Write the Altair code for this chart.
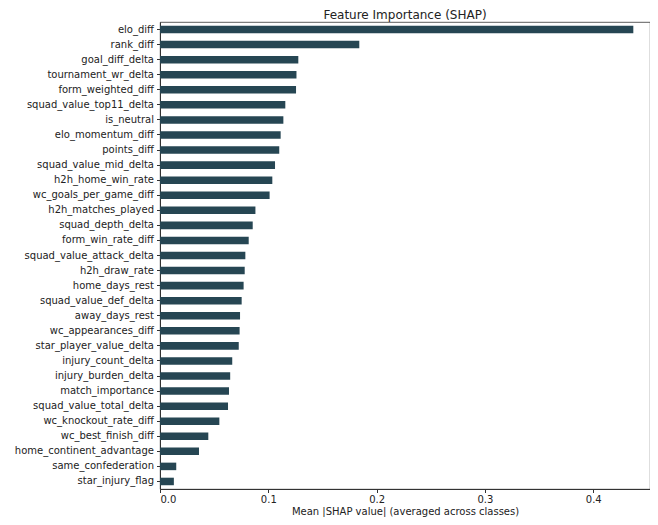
import altair as alt
import pandas as pd

features = [
    "elo_diff", "rank_diff", "goal_diff_delta", "tournament_wr_delta",
    "form_weighted_diff", "squad_value_top11_delta", "is_neutral",
    "elo_momentum_diff", "points_diff", "squad_value_mid_delta",
    "h2h_home_win_rate", "wc_goals_per_game_diff", "h2h_matches_played",
    "squad_depth_delta", "form_win_rate_diff", "squad_value_attack_delta",
    "h2h_draw_rate", "home_days_rest", "squad_value_def_delta",
    "away_days_rest", "wc_appearances_diff", "star_player_value_delta",
    "injury_count_delta", "injury_burden_delta", "match_importance",
    "squad_value_total_delta", "wc_knockout_rate_diff", "wc_best_finish_diff",
    "home_continent_advantage", "same_confederation", "star_injury_flag",
]
values = [
    0.437, 0.184, 0.1277, 0.126, 0.1256, 0.1157, 0.1139,
    0.1114, 0.1101, 0.1062, 0.1037, 0.1012, 0.0881,
    0.0856, 0.0819, 0.0788, 0.0782, 0.0772, 0.0754,
    0.0739, 0.0735, 0.0727, 0.0667, 0.0648, 0.0637,
    0.0628, 0.0548, 0.0446, 0.0360, 0.0150, 0.0128,
]
x_ticks = [0.0, 0.1, 0.2, 0.3, 0.4]

df = pd.DataFrame({"feature": features, "value": values})

FONT = "DejaVu Sans"

chart = alt.Chart(df).mark_bar(color="#264653").encode(
    x=alt.X(
        "value:Q",
        scale=alt.Scale(domain=[0, 0.4524], nice=False, zero=True),
        axis=alt.Axis(
            values=x_ticks, format=".1f", title="Mean |SHAP value| (averaged across classes)",
            grid=False, tickSize=3.5, tickColor="#333", domainColor="#333",
            labelFontSize=10, titleFontSize=10, labelFont=FONT, titleFont=FONT,
            labelColor="#222", titleColor="#222", titleFontWeight="normal",
            labelPadding=2, titleBaseline="alphabetic", titleY=25,
        ),
    ),
    y=alt.Y(
        "feature:N",
        sort=features,
        scale=alt.Scale(paddingInner=0.5, paddingOuter=0.25),
        axis=alt.Axis(
            title=None, tickSize=3.5, tickColor="#333", domainColor="#333",
            labelFontSize=10, labelFont=FONT, labelColor="#222", labelPadding=3,
            labelLimit=300,
        ),
    ),
).properties(
    width=490,
    height=467,
    title=alt.TitleParams(
        "Feature Importance (SHAP)", font=FONT, fontSize=12,
        fontWeight="normal", color="#222", anchor="middle", offset=0,
    ),
    autosize=alt.AutoSizeParams(type="none"),
    padding={"left": 152, "top": 14, "right": 0, "bottom": 28},
).configure_view(
    stroke="#333", strokeWidth=0.8
)

chart.save("out.html", embed_options={"renderer": "svg", "actions": False})
